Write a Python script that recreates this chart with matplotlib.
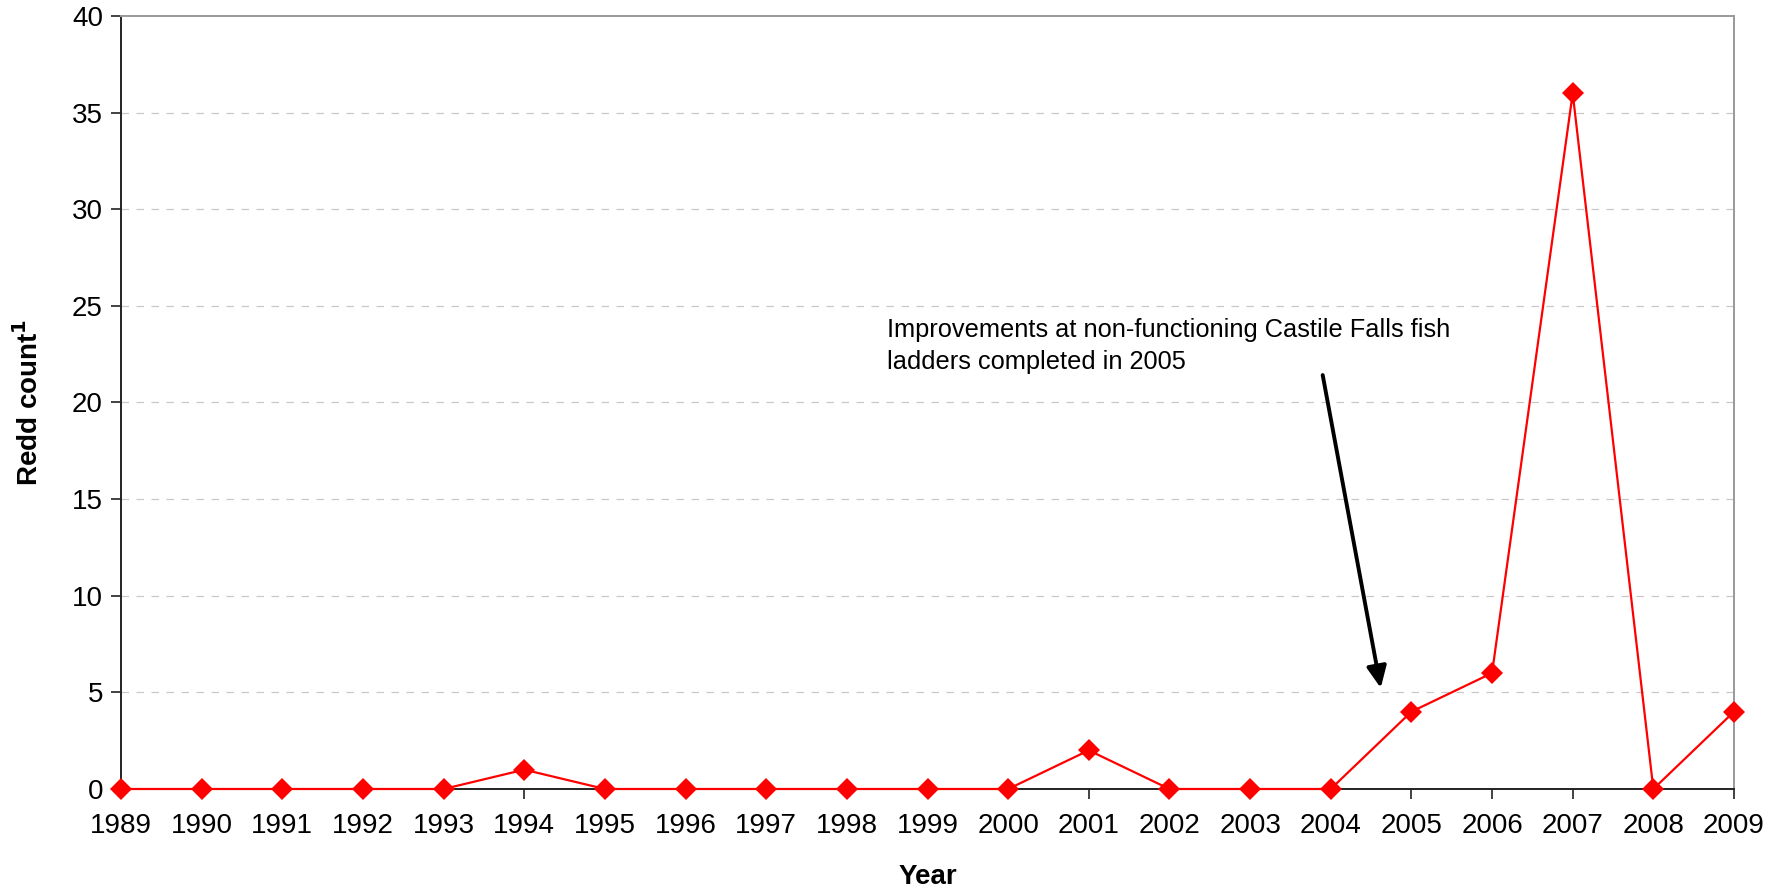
import matplotlib
matplotlib.use("Agg")
from matplotlib import pyplot as plt

plt.rcParams['font.family'] = ['Liberation Sans', 'DejaVu Sans']

years = list(range(1989, 2010))
redds = [0, 0, 0, 0, 0, 1, 0, 0, 0, 0, 0, 0, 2, 0, 0, 0, 4, 6, 36, 0, 4]
y_ticks = [0, 5, 10, 15, 20, 25, 30, 35, 40]
note_lines = ['Improvements at non-functioning Castile Falls fish',
              'ladders completed in 2005']

fig = plt.figure(figsize=(17.84, 8.92), dpi=100)
ax = fig.add_axes([121 / 1784, 1 - 789 / 892, (1734 - 121) / 1784, (789 - 16) / 892])

ax.plot(years, redds, color='#ff0000', lw=1.6, marker='D', markersize=11.5,
        markeredgewidth=0, clip_on=False, zorder=3)

ax.set_xlim(1989, 2009)
ax.set_ylim(0, 40)
ax.set_xticks(years)
ax.set_yticks(y_ticks)
ax.tick_params(axis='both', labelsize=20, length=7, width=1.2, color='#222222', pad=6)
ax.tick_params(axis='x', pad=10)

# dashed gridlines
for y in y_ticks[1:-1]:
    ax.axhline(y, color='#c8c8c8', lw=0.9, ls=(0, (6, 6)), zorder=1)

for s in ['left', 'bottom']:
    ax.spines[s].set_color('#222222')
    ax.spines[s].set_linewidth(1.4)
for s in ['top', 'right']:
    ax.spines[s].set_color('#999999')
    ax.spines[s].set_linewidth(1.4)

ax.set_xlabel('Year', fontsize=20, fontweight='bold', labelpad=18)
ax.set_ylabel('Redd count$^\\mathbf{1}$', fontsize=20, fontweight='bold', labelpad=20)

ax.annotate('', xy=(2004.62, 5.23), xytext=(2003.90, 21.42),
            arrowprops=dict(arrowstyle='-|>,head_length=1.3,head_width=0.6',
                            color='black', lw=2.8, mutation_scale=10,
                            shrinkA=0, shrinkB=0))
ax.text(1998.5, 23.39, note_lines[0], fontsize=18.3, va='baseline', ha='left')
ax.text(1998.5, 21.73, note_lines[1], fontsize=18.3, va='baseline', ha='left')

fig.savefig('out.png', dpi=100)
